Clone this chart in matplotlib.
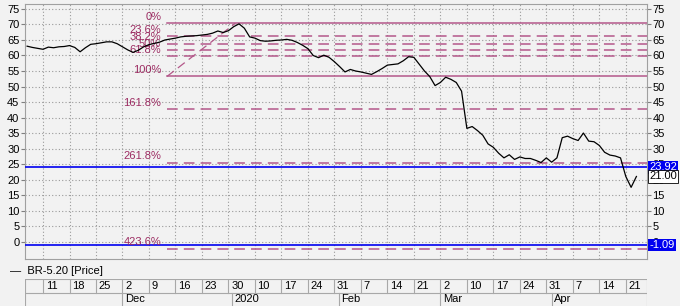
import numpy as np
import matplotlib.pyplot as plt
import matplotlib.transforms as mtransforms

plt.rcParams['font.family'] = ['Liberation Sans', 'DejaVu Sans']

# trading-day index, 0 = 11 Nov 2019
day = np.arange(-3, 113)
price = [63.0, 62.6, 62.3,
         62.0, 62.7, 62.5, 62.8, 62.9, 63.2, 62.6, 61.2, 62.5, 63.6,
         63.8, 64.1, 64.4, 64.4, 63.8, 62.8, 61.8, 61.0, 61.7, 62.8,
         63.5, 63.9, 64.3, 65.0, 65.3, 65.6, 66.0, 66.2, 66.3, 66.4,
         66.6, 66.8, 67.2, 67.9, 67.4, 68.0, 69.3, 70.2, 68.8, 66.0,
         65.6, 64.8, 64.6, 64.7, 64.9, 65.0, 65.2, 64.9, 64.2, 63.3,
         62.2, 60.0, 59.3, 60.1, 59.4, 58.0, 56.4, 54.7, 55.5, 55.0,
         54.7, 54.3, 53.9, 54.8, 55.8, 56.9, 57.1, 57.3, 58.3, 59.6,
         59.4, 57.2, 55.0, 53.2, 50.3, 51.3, 53.0, 52.3, 51.3, 48.5,
         36.5, 37.1, 35.8, 34.3, 31.5, 30.4, 28.5, 27.0, 28.0, 26.5,
         27.3, 26.8, 26.8, 26.2, 25.5, 27.0, 25.6, 27.0, 33.5, 34.0,
         33.2, 32.6, 35.0, 32.4, 32.2, 31.0, 28.8, 27.9, 27.6, 27.0,
         21.0, 17.5, 21.0]

# week ticks (first row of date axis)
week_pos = np.arange(0, 115, 5)
week_labels = ['11', '18', '25', '2', '9', '16', '23', '30', '10', '17', '24',
               '31', '7', '14', '21', '2', '10', '17', '24', '31', '7', '14', '21']
month_pos = [15, 35.7, 55.8, 75, 96]
month_labels = ['Dec', '2020', 'Feb', 'Mar', 'Apr']

# fibonacci tool
fib_high = 70.4
fib_low = 53.25
fib_start = 23.4
fib_end = 36.3
fib_ratios = [0, 23.6, 38.2, 50, 61.8, 100, 161.8, 261.8, 423.6]
fib_names = ['0%', '23.6%', '38.2%', '50%', '61.8%', '100%', '161.8%', '261.8%', '423.6%']

blue_levels = [23.92, -1.09]
last_price = 21.00

x0, x1 = -3.4, 114.0
bg = '#f2f2f2'
fibc = '#b4588a'
fibt = '#9c2c62'

fig = plt.figure(figsize=(6.8, 3.06), dpi=100, facecolor=bg)
ax = fig.add_axes([25 / 680, 47 / 306, 622 / 680, 255 / 306])
ax.set_facecolor(bg)

ax.set_xlim(x0, x1)
ax.set_ylim(-5.6, 76.6)
ax.set_yticks(np.arange(0, 80, 5))
ax.set_xticks(week_pos)
ax.set_xticklabels([])
ax.tick_params(axis='x', length=0)
ax.tick_params(axis='y', labelsize=8, length=3, color='#808080', pad=1,
               left=True, right=True, labelleft=True, labelright=True)
ax.grid(True, color='#9a9a9a', linestyle=(0, (1, 2)), linewidth=0.8)
for s in ax.spines.values():
    s.set_color('#a0a0a0')

# fib levels
rng = fib_high - fib_low
for r, name in zip(fib_ratios, fib_names):
    lv = fib_high - r / 100 * rng
    ls = '-' if r in (0, 100) else (0, (7, 4))
    ax.plot([fib_start, x1], [lv, lv], color=fibc, lw=1.1, ls=ls, zorder=3)
    ax.text(fib_start - 1.1, lv + 0.4, name, color=fibt, fontsize=8,
            ha='right', va='bottom', zorder=4)
ax.plot([fib_start, fib_end], [fib_low, fib_high], color=fibc, lw=0.9,
        ls=(0, (7, 4)), zorder=3)

for lv in blue_levels:
    ax.axhline(lv, color='#0000f0', lw=1.2, zorder=3)

ax.plot(day, price, color='black', lw=0.9, zorder=5)

# right price boxes
tr = mtransforms.blended_transform_factory(ax.transAxes, ax.transData)
for lv in blue_levels:
    ax.text(1.004, lv, f'{lv:.2f}', transform=tr, color='white', fontsize=8,
            ha='left', va='center', zorder=10, clip_on=False,
            bbox=dict(fc='#0000f0', ec='none', pad=0.8))
ax.text(1.004, last_price, f'{last_price:.2f}', transform=tr, color='black',
        fontsize=8, ha='left', va='center', zorder=10, clip_on=False,
        bbox=dict(fc='white', ec='black', lw=0.6, pad=0.8))

# legend line
fig.text(10 / 680, 1 - 271 / 306, '\u2014  BR-5.20 [Price]', fontsize=8,
         va='center', ha='left')

# date axis
axd = fig.add_axes([25 / 680, 0, 622 / 680, 27 / 306])
axd.set_xlim(x0, x1)
axd.set_ylim(0, 2)
axd.axis('off')
lc = '#a8a8a8'
axd.plot([x0, x1], [2, 2], color=lc, lw=0.8)
axd.plot([x0, x1], [1, 1], color=lc, lw=0.8)
axd.plot([x0, x0], [0, 2], color=lc, lw=0.8)
axd.plot([x1, x1], [0, 2], color=lc, lw=0.8)
for p, lab in zip(week_pos, week_labels):
    axd.plot([p, p], [1, 2], color=lc, lw=0.8)
    axd.text(p + 0.5, 1.5, lab, fontsize=8, ha='left', va='center')
for p, lab in zip(month_pos, month_labels):
    axd.plot([p, p], [0, 1], color=lc, lw=0.8)
    axd.text(p + 0.5, 0.5, lab, fontsize=8, ha='left', va='center')

fig.savefig('out.png', dpi=100, facecolor=bg)
